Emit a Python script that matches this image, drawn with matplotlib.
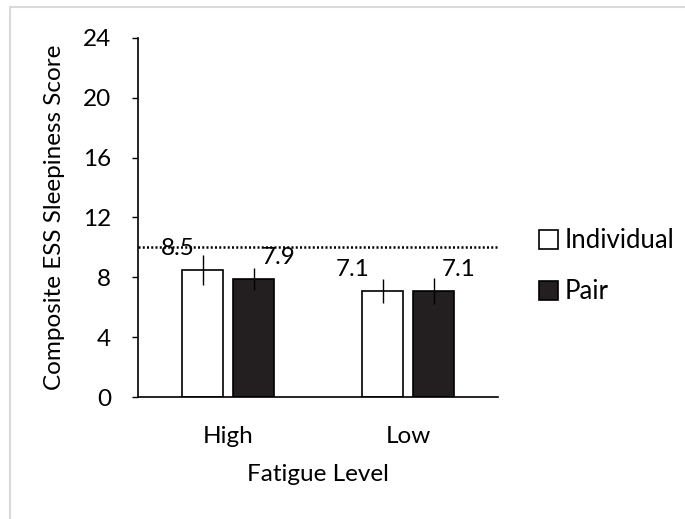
import numpy as np
import matplotlib.pyplot as plt
from matplotlib.patches import Rectangle

plt.rcParams.update({
    'font.family': ['Lato', 'DejaVu Sans'],
    'font.size': 17.5,
    'axes.linewidth': 1.2,
})

# ESS scores by fatigue level and work condition
levels = ['High', 'Low']
groups = ['Individual', 'Pair']
means = {
    'Individual': [8.5, 7.1],
    'Pair': [7.9, 7.1],
}
errors = {
    'Individual': [1.0, 0.8],
    'Pair': [0.75, 0.85],
}
cutoff = 10  # ESS threshold line

face = {'Individual': 'white', 'Pair': '#231f20'}
offset = {'Individual': -0.141, 'Pair': 0.141}
label_dx = {'Individual': [-0.14, -0.17], 'Pair': [0.14, 0.14]}

fig = plt.figure(figsize=(6.85, 5.19), dpi=100)
ax = fig.add_axes([0.2015, 0.235, 0.526, 0.692])

# light chart-area frame (only left and top edges fall inside the image)
fig.patches.append(Rectangle((10 / 685, -0.5), 2, 1.5 - 7 / 519, transform=fig.transFigure,
                             fill=False, edgecolor='#d9d9d9', linewidth=1.5))

x = np.arange(len(levels))
width = 0.227
for g in groups:
    pos = x + offset[g]
    ax.errorbar(pos, means[g], yerr=errors[g], fmt='none', ecolor='black',
                elinewidth=1, capsize=0, zorder=3)
    ax.bar(pos, means[g], width, color=face[g], edgecolor='black',
           linewidth=1.2, zorder=2, label=g)
    for i, v in enumerate(means[g]):
        ax.text(pos[i] + label_dx[g][i], v + 1.4, f'{v:.1f}',
                ha='center', va='center', zorder=4)

ax.axhline(cutoff, color='black', linestyle=(0, (0.8, 0.9)), linewidth=1.8, zorder=1)

ax.set_xlim(-0.5, 1.5)
ax.set_ylim(0, 24)
ax.set_yticks(np.arange(0, 25, 4))
ax.set_xticks(x)
ax.set_xticklabels(levels)
ax.tick_params(axis='y', direction='out', length=4.5, width=1, pad=15)
ax.tick_params(axis='x', length=0, pad=21)
ax.spines['top'].set_visible(False)
ax.spines['right'].set_visible(False)

ax.set_xlabel('Fatigue Level', labelpad=12)
ax.set_ylabel('Composite ESS Sleepiness Score', labelpad=13)

ax.legend(loc='center left', bbox_to_anchor=(0.772, 0.487),
          bbox_transform=fig.transFigure, frameon=False, fontsize=18.5,
          handlelength=0.75, handleheight=0.75, handletextpad=0.25,
          labelspacing=1.0, borderaxespad=0)

fig.savefig('out.png', dpi=100)
